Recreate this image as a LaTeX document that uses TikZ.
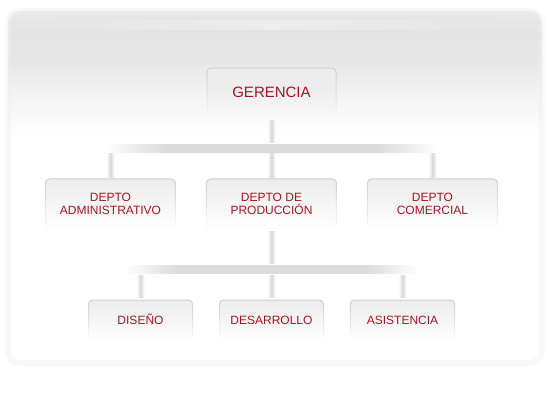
\documentclass[tikz,border=0pt]{standalone}
\usepackage{fontspec}
\setmainfont{Liberation Sans}
\usetikzlibrary{positioning,calc,fadings}
\definecolor{deptred}{HTML}{A8141E}
\pgfdeclareverticalshading{panelshade}{100bp}{color(0bp)=(white); color(25bp)=(white); color(57bp)=(white); color(63bp)=(gray!9); color(68bp)=(gray!19); color(72bp)=(gray!22); color(75bp)=(gray!18); color(100bp)=(gray!18)}
\pgfdeclarehorizontalshading{busshade}{100bp}{color(0bp)=(white); color(25bp)=(white); color(34bp)=(gray!28); color(66bp)=(gray!28); color(75bp)=(white); color(100bp)=(white)}
\pgfdeclarehorizontalshading{stubshade}{100bp}{color(0bp)=(white); color(25bp)=(white); color(50bp)=(gray!32); color(75bp)=(white); color(100bp)=(white)}
\tikzfading[name=fade sides, left color=transparent!100, right color=transparent!100, middle color=transparent!0]

\begin{document}
\begin{tikzpicture}[x=1pt,y=1pt,
 box/.style={draw=gray!38,fill=gray!14,line width=1pt,rounded corners=4pt,path fading=south,
 align=center,text=deptred,inner sep=0pt},
 head/.style={box,minimum width=129pt,minimum height=48pt,font=\fontsize{15}{18}\selectfont,
 text height=10.8pt,text depth=0pt},
 dept/.style={box,minimum width=130pt,minimum height=50pt,font=\fontsize{12}{12.3}\selectfont},
 section/.style={box,minimum width=104pt,minimum height=40pt,font=\fontsize{12}{14}\selectfont,
 text height=8.6pt,text depth=0pt},
 stub/.style={shading=stubshade},
 bus/.style={shading=busshade},
 node distance=30pt]
\useasboundingbox (0,0) rectangle (550,-400);
\path[shading=panelshade,rounded corners=12pt] (8,-11) rectangle (542,-363);
\draw[gray!12,line width=6pt,rounded corners=12pt,opacity=.45] (8,-11) rectangle (542,-363);
\fill[white,fill opacity=.35,path fading=fade sides] (30,-20) rectangle (515,-30);
\node[head] (ger) at (271.5,-92) {GERENCIA};
\node[dept,below=62pt of ger] (prod) {DEPTO DE\\PRODUCCIÓN};
\node[dept,left=of prod] (adm) {DEPTO\\ADMINISTRATIVO};
\node[dept,right=of prod] (com) {DEPTO\\COMERCIAL};
\node[section,below=70pt of prod] (des) {DESARROLLO};
\node[section,left=26pt of des] (dis) {DISEÑO};
\node[section,right=26pt of des] (asi) {ASISTENCIA};
\coordinate[below=32pt of ger] (bus1);
\coordinate[below=40pt of prod] (bus2);
\path[stub] ($(ger.south)+(-4,-4)$) rectangle ($(bus1)+(4,6)$);
\path[bus] ($(bus1 -| adm)+(-6,4)$) rectangle ($(bus1 -| com)+(6,-4)$);
\foreach \n in {adm,prod,com}
 \path[stub] ($(bus1 -| \n)+(-4,-5)$) rectangle ($(\n.north)+(4,1)$);
\path[stub] ($(prod.south)+(-4,-2)$) rectangle ($(bus2)+(4,6)$);
\path[bus] ($(bus2 -| dis)+(-16,4)$) rectangle ($(bus2 -| asi)+(16,-4)$);
\foreach \n in {dis,des,asi}
 \path[stub] ($(bus2 -| \n)+(-4,-6)$) rectangle ($(\n.north)+(4,2)$);
\end{tikzpicture}
\end{document}
